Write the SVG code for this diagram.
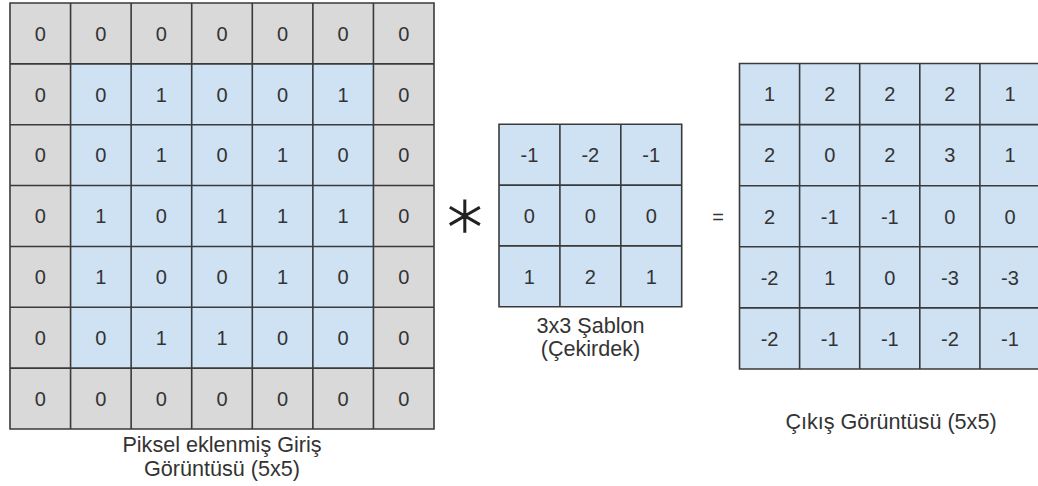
<svg xmlns="http://www.w3.org/2000/svg" width="1038" height="486" viewBox="0 0 1038 486">
  <style>
    .pad { fill: #d9d9d9; }
    .cell { fill: #cfe2f3; }
    .grid { fill: none; stroke: #3a3a3a; stroke-width: 1.6; }
    .v { font-family: "Liberation Sans", Arial, sans-serif; font-size: 20px; fill: #333; text-anchor: middle; }
    .lbl { font-family: "Liberation Sans", Arial, sans-serif; font-size: 21.6px; fill: #333; text-anchor: middle; }
  </style>
  <rect width="1038" height="486" fill="#ffffff"/>

  <!-- Zero-padded input image: 7x7 with a 5x5 core -->
  <g id="input-image">
    <rect class="pad" x="10" y="3" width="424" height="426"/>
    <rect class="cell" x="70.57" y="63.86" width="302.86" height="304.29"/>
    <path class="grid" d="M10 3H434V429H10Z M70.57 3V429 M131.14 3V429 M191.71 3V429 M252.29 3V429 M312.86 3V429 M373.43 3V429 M10 63.86H434 M10 124.71H434 M10 185.57H434 M10 246.43H434 M10 307.29H434 M10 368.14H434"/>
    <g class="v">
      <text x="40.3" y="40.6">0</text><text x="100.9" y="40.6">0</text><text x="161.4" y="40.6">0</text><text x="222" y="40.6">0</text><text x="282.6" y="40.6">0</text><text x="343.1" y="40.6">0</text><text x="403.7" y="40.6">0</text>
      <text x="40.3" y="101.5">0</text><text x="100.9" y="101.5">0</text><text x="161.4" y="101.5">1</text><text x="222" y="101.5">0</text><text x="282.6" y="101.5">0</text><text x="343.1" y="101.5">1</text><text x="403.7" y="101.5">0</text>
      <text x="40.3" y="162.4">0</text><text x="100.9" y="162.4">0</text><text x="161.4" y="162.4">1</text><text x="222" y="162.4">0</text><text x="282.6" y="162.4">1</text><text x="343.1" y="162.4">0</text><text x="403.7" y="162.4">0</text>
      <text x="40.3" y="223.2">0</text><text x="100.9" y="223.2">1</text><text x="161.4" y="223.2">0</text><text x="222" y="223.2">1</text><text x="282.6" y="223.2">1</text><text x="343.1" y="223.2">1</text><text x="403.7" y="223.2">0</text>
      <text x="40.3" y="284.1">0</text><text x="100.9" y="284.1">1</text><text x="161.4" y="284.1">0</text><text x="222" y="284.1">0</text><text x="282.6" y="284.1">1</text><text x="343.1" y="284.1">0</text><text x="403.7" y="284.1">0</text>
      <text x="40.3" y="344.9">0</text><text x="100.9" y="344.9">0</text><text x="161.4" y="344.9">1</text><text x="222" y="344.9">1</text><text x="282.6" y="344.9">0</text><text x="343.1" y="344.9">0</text><text x="403.7" y="344.9">0</text>
      <text x="40.3" y="405.8">0</text><text x="100.9" y="405.8">0</text><text x="161.4" y="405.8">0</text><text x="222" y="405.8">0</text><text x="282.6" y="405.8">0</text><text x="343.1" y="405.8">0</text><text x="403.7" y="405.8">0</text>
    </g>
  </g>
  <g id="input-label">
    <text class="lbl" x="222" y="452">Piksel eklenmiş Giriş</text>
    <text class="lbl" x="222" y="476">Görüntüsü (5x5)</text>
  </g>

  <!-- Convolution operator -->
  <g id="operator-conv">
    <text x="465" y="238" font-family="DejaVu Sans, sans-serif" font-weight="200" font-size="70" fill="#222" stroke="#222" stroke-width="1.4" text-anchor="middle">∗</text>
  </g>

  <!-- 3x3 kernel -->
  <g id="kernel">
    <rect class="cell" x="499" y="124.3" width="182.7" height="182.4"/>
    <path class="grid" d="M499 124.3H681.7V306.7H499Z M559.9 124.3V306.7 M620.8 124.3V306.7 M499 185.1H681.7 M499 245.9H681.7"/>
    <g class="v">
      <text x="529.4" y="161.9">-1</text><text x="590.3" y="161.9">-2</text><text x="651.2" y="161.9">-1</text>
      <text x="529.4" y="222.7">0</text><text x="590.3" y="222.7">0</text><text x="651.2" y="222.7">0</text>
      <text x="529.4" y="283.5">1</text><text x="590.3" y="283.5">2</text><text x="651.2" y="283.5">1</text>
    </g>
  </g>
  <g id="kernel-label">
    <text class="lbl" x="590.5" y="333">3x3 Şablon</text>
    <text class="lbl" x="590.5" y="356">(Çekirdek)</text>
  </g>

  <!-- Equals sign -->
  <g id="operator-eq">
    <text class="v" x="718" y="223.5" font-size="18">=</text>
  </g>

  <!-- 5x5 output image -->
  <g id="output-image">
    <rect class="cell" x="739.5" y="63.5" width="300.5" height="305.5"/>
    <path class="grid" d="M739.5 63.5H1040V369H739.5Z M799.6 63.5V369 M859.7 63.5V369 M919.8 63.5V369 M979.9 63.5V369 M739.5 124.6H1040 M739.5 185.7H1040 M739.5 246.8H1040 M739.5 307.9H1040"/>
    <g class="v">
      <text x="769.6" y="101.2">1</text><text x="829.7" y="101.2">2</text><text x="889.8" y="101.2">2</text><text x="949.9" y="101.2">2</text><text x="1010" y="101.2">1</text>
      <text x="769.6" y="162.4">2</text><text x="829.7" y="162.4">0</text><text x="889.8" y="162.4">2</text><text x="949.9" y="162.4">3</text><text x="1010" y="162.4">1</text>
      <text x="769.6" y="223.5">2</text><text x="829.7" y="223.5">-1</text><text x="889.8" y="223.5">-1</text><text x="949.9" y="223.5">0</text><text x="1010" y="223.5">0</text>
      <text x="769.6" y="284.6">-2</text><text x="829.7" y="284.6">1</text><text x="889.8" y="284.6">0</text><text x="949.9" y="284.6">-3</text><text x="1010" y="284.6">-3</text>
      <text x="769.6" y="345.7">-2</text><text x="829.7" y="345.7">-1</text><text x="889.8" y="345.7">-1</text><text x="949.9" y="345.7">-2</text><text x="1010" y="345.7">-1</text>
    </g>
  </g>
  <g id="output-label">
    <text class="lbl" x="891" y="429">Çıkış Görüntüsü (5x5)</text>
  </g>
</svg>
